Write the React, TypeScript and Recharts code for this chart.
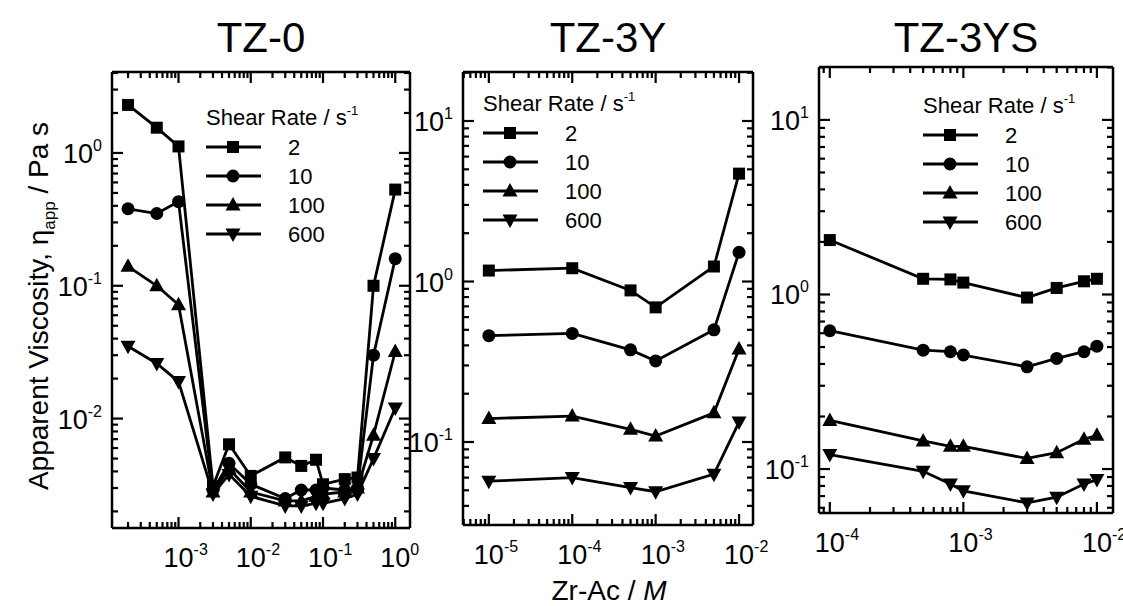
import React from 'react'
import { Line, LineChart, XAxis, YAxis } from 'recharts'

const FONT = 'Arial, "Liberation Sans", Helvetica, sans-serif'

// TZ-0
const tz0Conc = [2e-4, 5e-4, 1e-3, 3e-3, 5e-3, 1e-2, 3e-2, 5e-2, 8e-2, 1e-1, 2e-1, 3e-1, 5e-1, 1]
const tz0Rate2 = [2.3, 1.55, 1.12, 0.0031, 0.0064, 0.0037, 0.0051, 0.0044, 0.0049, 0.0032, 0.0035, 0.0036, 0.1, 0.53]
const tz0Rate10 = [0.38, 0.35, 0.43, 0.0029, 0.0046, 0.0032, 0.0025, 0.0029, 0.0029, 0.003, 0.0029, 0.003, 0.03, 0.16]
const tz0Rate100 = [0.14, 0.1, 0.072, 0.0028, 0.0042, 0.0028, 0.0024, 0.0024, 0.0026, 0.0027, 0.0028, 0.003, 0.0075, 0.032]
const tz0Rate600 = [0.035, 0.026, 0.019, 0.0027, 0.0038, 0.0026, 0.0022, 0.0022, 0.0023, 0.0023, 0.0025, 0.0027, 0.005, 0.012]
const tz0XMajor = [1e-3, 1e-2, 1e-1, 1]
const tz0YMajor = [1e-2, 1e-1, 1]

// TZ-3Y
const tz3yConc = [1e-5, 1e-4, 5e-4, 1e-3, 5e-3, 1e-2]
const tz3yRate2 = [1.17, 1.21, 0.88, 0.69, 1.24, 4.7]
const tz3yRate10 = [0.46, 0.475, 0.375, 0.32, 0.5, 1.52]
const tz3yRate100 = [0.14, 0.145, 0.12, 0.109, 0.152, 0.38]
const tz3yRate600 = [0.057, 0.06, 0.052, 0.049, 0.063, 0.133]
const tz3yXMajor = [1e-5, 1e-4, 1e-3, 1e-2]
const tz3yYMajor = [1e-1, 1, 10]

// TZ-3YS
const tz3ysConc = [1e-4, 5e-4, 8e-4, 1e-3, 3e-3, 5e-3, 8e-3, 1e-2]
const tz3ysRate2 = [2.05, 1.23, 1.22, 1.17, 0.96, 1.09, 1.19, 1.23]
const tz3ysRate10 = [0.62, 0.48, 0.47, 0.45, 0.385, 0.43, 0.47, 0.506]
const tz3ysRate100 = [0.19, 0.145, 0.135, 0.135, 0.115, 0.124, 0.148, 0.156]
const tz3ysRate600 = [0.121, 0.097, 0.082, 0.075, 0.064, 0.069, 0.082, 0.087]
const tz3ysXMajor = [1e-4, 1e-3, 1e-2]
const tz3ysYMajor = [1e-1, 1, 10]

const rateLabels = ['2', '10', '100', '600']
const shapes = ['square', 'circle', 'up', 'down'] as const
type Shape = (typeof shapes)[number]

const YAXIS_W = 80
const XAXIS_H = 60
const M_TOP = 10
const M_RIGHT = 35
const axisStyle = { stroke: '#000', strokeWidth: 2.5 }

// minor ticks 1..9 x 10^k inside the domain
function logTicks(domain: [number, number]) {
  const out: number[] = []
  const lo = Math.floor(Math.log10(domain[0]))
  const hi = Math.ceil(Math.log10(domain[1]))
  for (let k = lo; k <= hi; k++) {
    for (let m = 1; m <= 9; m++) {
      const v = Number((m * Math.pow(10, k)).toPrecision(6))
      if (v >= domain[0] && v <= domain[1]) out.push(v)
    }
  }
  return out
}

function Marker({ cx, cy, shape }: { cx: number; cy: number; shape: Shape }) {
  if (cx == null || cy == null) return null
  if (shape === 'square') return <rect x={cx - 6} y={cy - 6} width={12} height={12} fill="#000" />
  if (shape === 'circle') return <circle cx={cx} cy={cy} r={6.5} fill="#000" />
  if (shape === 'up')
    return <path d={`M${cx},${cy - 8} L${cx + 7.5},${cy + 5.5} L${cx - 7.5},${cy + 5.5} Z`} fill="#000" />
  return <path d={`M${cx},${cy + 8} L${cx + 7.5},${cy - 5.5} L${cx - 7.5},${cy - 5.5} Z`} fill="#000" />
}

function LogTick(props: any) {
  const { x, y, payload, side, majors } = props
  const v = payload.value
  const exp = Math.round(Math.log10(v))
  const major = majors.some((m: number) => Math.abs(m - v) / m < 1e-6)
  const len = major ? 11 : 6
  const sw = 2.2
  if (side === 'bottom')
    return (
      <g>
        <line x1={x} y1={y} x2={x} y2={y - len} stroke="#000" strokeWidth={sw} />
        {major && (
          <text x={x - 15} y={y + 39} fontSize={27} fontFamily={FONT} fill="#000">
            10<tspan dy={-12} fontSize={16}>{exp}</tspan>
          </text>
        )}
      </g>
    )
  if (side === 'top') return <line x1={x} y1={y} x2={x} y2={y + len} stroke="#000" strokeWidth={sw} />
  if (side === 'left')
    return (
      <g>
        <line x1={x} y1={y} x2={x + len} y2={y} stroke="#000" strokeWidth={sw} />
        {major && (
          <text x={x - 10} y={y + 10} textAnchor="end" fontSize={27} fontFamily={FONT} fill="#000">
            10<tspan dy={-12} fontSize={16}>{exp}</tspan>
          </text>
        )}
      </g>
    )
  return <line x1={x} y1={y} x2={x - len} y2={y} stroke="#000" strokeWidth={sw} />
}

interface PanelProps {
  box: [number, number, number, number]
  xDomain: [number, number]
  yDomain: [number, number]
  xMajor: number[]
  yMajor: number[]
  conc: number[]
  rates: number[][]
}

function Panel({ box, xDomain, yDomain, xMajor, yMajor, conc, rates }: PanelProps) {
  const [x0, y0, x1, y1] = box
  const rows = conc.map((c, i) => ({ c, r2: rates[0][i], r10: rates[1][i], r100: rates[2][i], r600: rates[3][i] }))
  const keys = ['r2', 'r10', 'r100', 'r600']
  const xTicks = logTicks(xDomain)
  const yTicks = logTicks(yDomain)
  const common = {
    type: 'number' as const,
    scale: 'log' as const,
    allowDataOverflow: true,
    interval: 0 as const,
    tickSize: 0,
    tickMargin: 0,
    tickLine: false,
    axisLine: axisStyle,
  }
  return (
    <div style={{ position: 'absolute', left: x0 - YAXIS_W, top: y0 - M_TOP }}>
      <LineChart
        width={x1 - x0 + YAXIS_W + M_RIGHT}
        height={y1 - y0 + M_TOP + XAXIS_H}
        data={rows}
        margin={{ top: M_TOP - 1, right: M_RIGHT - 1, left: 0, bottom: 0 }}
      >
        <XAxis {...common} xAxisId="b" dataKey="c" domain={xDomain} ticks={xTicks} height={XAXIS_H}
          tick={(p: any) => <LogTick {...p} side="bottom" majors={xMajor} />} />
        <XAxis {...common} xAxisId="t" orientation="top" dataKey="c" domain={xDomain} ticks={xTicks} height={1}
          tick={(p: any) => <LogTick {...p} side="top" majors={xMajor} />} />
        <YAxis {...common} yAxisId="l" domain={yDomain} ticks={yTicks} width={YAXIS_W}
          tick={(p: any) => <LogTick {...p} side="left" majors={yMajor} />} />
        <YAxis {...common} yAxisId="r" orientation="right" domain={yDomain} ticks={yTicks} width={1}
          tick={(p: any) => <LogTick {...p} side="right" majors={yMajor} />} />
        {keys.map((k, si) => (
          <Line
            key={k}
            xAxisId="b"
            yAxisId="l"
            dataKey={k}
            stroke="#000"
            strokeWidth={2.8}
            activeDot={false}
            isAnimationActive={false}
            dot={(p: any) => <Marker key={`${k}-${p.index}`} cx={p.cx} cy={p.cy} shape={shapes[si]} />}
          />
        ))}
      </LineChart>
    </div>
  )
}

function LegendBox({ x, y }: { x: number; y: number }) {
  return (
    <g fontFamily={FONT} fill="#000">
      <text x={x} y={y + 8} fontSize={22}>
        Shear Rate / s<tspan dy={-10} fontSize={13}>-1</tspan>
      </text>
      {rateLabels.map((r, i) => {
        const cy = y + 30 + i * 29
        return (
          <g key={r}>
            <line x1={x} y1={cy} x2={x + 55} y2={cy} stroke="#000" strokeWidth={2.8} />
            <Marker cx={x + 27} cy={cy} shape={shapes[i]} />
            <text x={x + 82} y={cy + 8} fontSize={22}>{r}</text>
          </g>
        )
      })}
    </g>
  )
}

export default function App() {
  return (
    <div style={{ position: 'absolute', left: 0, top: 0, width: 1123, height: 606, background: '#fff', overflow: 'hidden' }}>
      <Panel box={[112, 72, 410, 528]} xDomain={[1.2e-4, 1.6]} yDomain={[1.5e-3, 4.07]}
        xMajor={tz0XMajor} yMajor={tz0YMajor} conc={tz0Conc}
        rates={[tz0Rate2, tz0Rate10, tz0Rate100, tz0Rate600]} />
      <Panel box={[463, 72, 753, 525]} xDomain={[4.9e-6, 0.0147]} yDomain={[0.0304, 20.2]}
        xMajor={tz3yXMajor} yMajor={tz3yYMajor} conc={tz3yConc}
        rates={[tz3yRate2, tz3yRate10, tz3yRate100, tz3yRate600]} />
      <Panel box={[819, 67, 1113, 513]} xDomain={[8.3e-5, 0.0132]} yDomain={[0.056, 20.1]}
        xMajor={tz3ysXMajor} yMajor={tz3ysYMajor} conc={tz3ysConc}
        rates={[tz3ysRate2, tz3ysRate10, tz3ysRate100, tz3ysRate600]} />
      <svg width={1123} height={606} style={{ position: 'absolute', left: 0, top: 0, pointerEvents: 'none' }}>
        <g fontFamily={FONT} fill="#000">
          <text x={261} y={52} fontSize={42} textAnchor="middle">TZ-0</text>
          <text x={608} y={52} fontSize={42} textAnchor="middle">TZ-3Y</text>
          <text x={966} y={52} fontSize={42} textAnchor="middle">TZ-3YS</text>
          <text x={609} y={600} fontSize={28} textAnchor="middle">
            Zr-Ac / <tspan fontStyle="italic">M</tspan>
          </text>
          <text transform="translate(48,306) rotate(-90)" fontSize={28} textAnchor="middle">
            Apparent Viscosity, η<tspan dy={7} fontSize={17}>app</tspan>
            <tspan dy={-7}> / Pa s</tspan>
          </text>
        </g>
        <LegendBox x={206} y={117} />
        <LegendBox x={483} y={103} />
        <LegendBox x={923} y={105} />
      </svg>
    </div>
  )
}
